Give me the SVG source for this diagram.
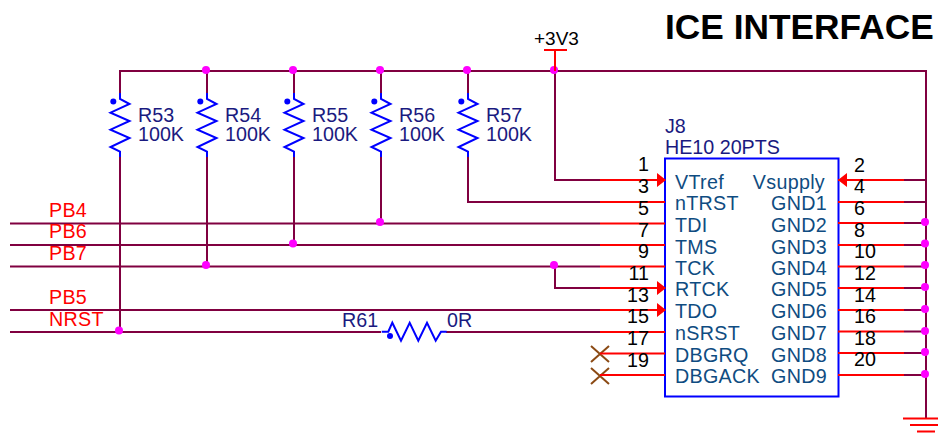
<svg xmlns="http://www.w3.org/2000/svg" width="938" height="434" viewBox="0 0 938 434">
<defs>
<style>
text{font-family:"Liberation Sans",Arial,sans-serif;font-size:19.700px}
.w{fill:none;stroke:#800040;stroke-width:2}
.p{fill:none;stroke:#ff0000;stroke-width:2}
.b{fill:none;stroke:#0000ff;stroke-width:2}
.j{fill:#ff00ff}
.d{fill:#0000ff}
.a{fill:#ff0000}
.x{fill:none;stroke:#8b4a14;stroke-width:2}
.r{fill:#1a1a80}
.n{fill:#0f4c81;letter-spacing:.3px}
.l{fill:#ff0000;letter-spacing:.3px}
.k{fill:#000000}
.e{text-anchor:end}
</style>
<g id="res"><path class="b" d="M0 0V6L9.500 11-9.500 19.700 9.500 28-9.500 36.700 9.500 45-9.500 54 0 58.700V64"/><circle class="d" cx="-6.700" cy="8.500" r="3"/></g>
<circle id="dot" class="j" r="4"/>
</defs>
<rect width="938" height="434" fill="#ffffff"/>
<text id="title" x="665" y="39" style="font-size:35.300px;font-weight:bold" class="k">ICE INTERFACE</text>

<g id="connectors">
<path class="w" d="M120 93V71H926V419M207 71V93M294 71V93M381 71V93M468 71V93M555 71V180H600M468 157V202H600"/>
<path class="w" d="M120 157V332M207 157V266M294 157V245M381 157V223.500"/>
<path class="w" d="M10 223.500H600M10 245H600M10 266.500H600M555 266.500V288H600M10 310H600M10 332H381M446 332H600"/>
<path class="w" d="M904 180H926M904 202H926M904 223H926M904 245H926M904 266.500H926M904 288H926M904 310H926M904 331.500H926M904 353H926M904 375H926"/>
<use href="#dot" x="206" y="70"/><use href="#dot" x="293" y="70"/><use href="#dot" x="380" y="70"/><use href="#dot" x="467" y="70"/><use href="#dot" x="554" y="70"/>
<use href="#dot" x="380" y="222"/><use href="#dot" x="293" y="243.500"/><use href="#dot" x="206" y="265"/><use href="#dot" x="119" y="330.500"/><use href="#dot" x="554" y="265"/>
<use href="#dot" x="925" y="222"/><use href="#dot" x="925" y="243.500"/><use href="#dot" x="925" y="265"/><use href="#dot" x="925" y="287"/><use href="#dot" x="925" y="309"/><use href="#dot" x="925" y="331"/><use href="#dot" x="925" y="352"/><use href="#dot" x="925" y="374"/>
</g>

<g id="nets" class="l">
<text x="49" y="217" class="l">PB4</text>
<text x="49" y="238" class="l">PB6</text>
<text x="49" y="260" class="l">PB7</text>
<text x="49" y="304" class="l">PB5</text>
<text x="49" y="326" class="l">NRST</text>
</g>

<g id="R53"><use href="#res" x="120" y="93"/><text x="138" y="122" class="r">R53</text><text x="138" y="141" class="r">100K</text></g>
<g id="R54"><use href="#res" x="207" y="93"/><text x="225" y="122" class="r">R54</text><text x="225" y="141" class="r">100K</text></g>
<g id="R55"><use href="#res" x="294" y="93"/><text x="312" y="122" class="r">R55</text><text x="312" y="141" class="r">100K</text></g>
<g id="R56"><use href="#res" x="381" y="93"/><text x="399" y="122" class="r">R56</text><text x="399" y="141" class="r">100K</text></g>
<g id="R57"><use href="#res" x="468" y="93"/><text x="486" y="122" class="r">R57</text><text x="486" y="141" class="r">100K</text></g>

<g id="R61">
<path class="b" d="M381.700 331.700H388.300L392.300 322.700 401 340.700 409.700 322.700 418.300 340.700 427 322.700 435.700 340.700 441 331.700H446.700"/>
<circle class="d" cx="390" cy="336" r="3"/>
<text x="342" y="327" class="r">R61</text><text x="447" y="327" class="r">0R</text>
</g>

<g id="power-3V3">
<path class="p" d="M555 71V50M544 50H567"/>
<text x="534" y="45" class="k" style="font-size:19px">+3V3</text>
</g>

<g id="ground">
<path class="p" d="M903 418.500H938M910 425H938M917 431.500H935"/>
</g>

<g id="nc-19"><path class="x" d="M591 346 609 362M609 346 591 362"/></g>
<g id="nc-20"><path class="x" d="M591 368 609 384M609 368 591 384"/></g>

<g id="J8">
<rect x="665" y="158.500" width="173.500" height="238" fill="#ffffff" stroke="#0000ff" stroke-width="2"/>
<text x="665" y="133" class="r">J8</text>
<text x="665" y="154" class="r">HE10 20PTS</text>
<path class="p" d="M600 180H665M600 202H665M600 223.500H665M600 245H665M600 266.500H665M600 288H665M600 310H665M600 332H665M600 353.500H665M600 375H665"/>
<path class="p" d="M838 180H904M838 202H904M838 223H904M838 245H904M838 266.500H904M838 288H904M838 310H904M838 331.500H904M838 353H904M838 375H904"/>
<path class="a" d="M657 173 666 180 657 187ZM657 281 666 288 657 295ZM657 303 666 310 657 317ZM847 173 838 180 847 187Z"/>
<g class="n">
<text x="675" y="189" class="n">VTref</text><text x="675" y="210" class="n">nTRST</text><text x="675" y="232" class="n">TDI</text><text x="675" y="254" class="n">TMS</text><text x="675" y="275" class="n">TCK</text><text x="675" y="296" class="n">RTCK</text><text x="675" y="318" class="n">TDO</text><text x="675" y="340" class="n">nSRST</text><text x="675" y="362" class="n">DBGRQ</text><text x="675" y="383" class="n">DBGACK</text>
<text x="825" y="189" class="n e">Vsupply</text><text x="827" y="210" class="n e">GND1</text><text x="827" y="232" class="n e">GND2</text><text x="827" y="254" class="n e">GND3</text><text x="827" y="275" class="n e">GND4</text><text x="827" y="296" class="n e">GND5</text><text x="827" y="318" class="n e">GND6</text><text x="827" y="340" class="n e">GND7</text><text x="827" y="362" class="n e">GND8</text><text x="827" y="383" class="n e">GND9</text>
</g>
<g class="k">
<text x="649" y="171" class="k e">1</text><text x="649" y="193" class="k e">3</text><text x="649" y="215" class="k e">5</text><text x="649" y="237" class="k e">7</text><text x="649" y="258" class="k e">9</text><text x="649" y="280" class="k e">11</text><text x="649" y="302" class="k e">13</text><text x="649" y="323" class="k e">15</text><text x="649" y="345" class="k e">17</text><text x="649" y="367" class="k e">19</text>
<text x="854" y="172" class="k">2</text><text x="854" y="193" class="k">4</text><text x="854" y="215" class="k">6</text><text x="854" y="237" class="k">8</text><text x="854" y="258" class="k">10</text><text x="854" y="280" class="k">12</text><text x="854" y="302" class="k">14</text><text x="854" y="323" class="k">16</text><text x="854" y="345" class="k">18</text><text x="854" y="366" class="k">20</text>
</g>
</g>
</svg>
